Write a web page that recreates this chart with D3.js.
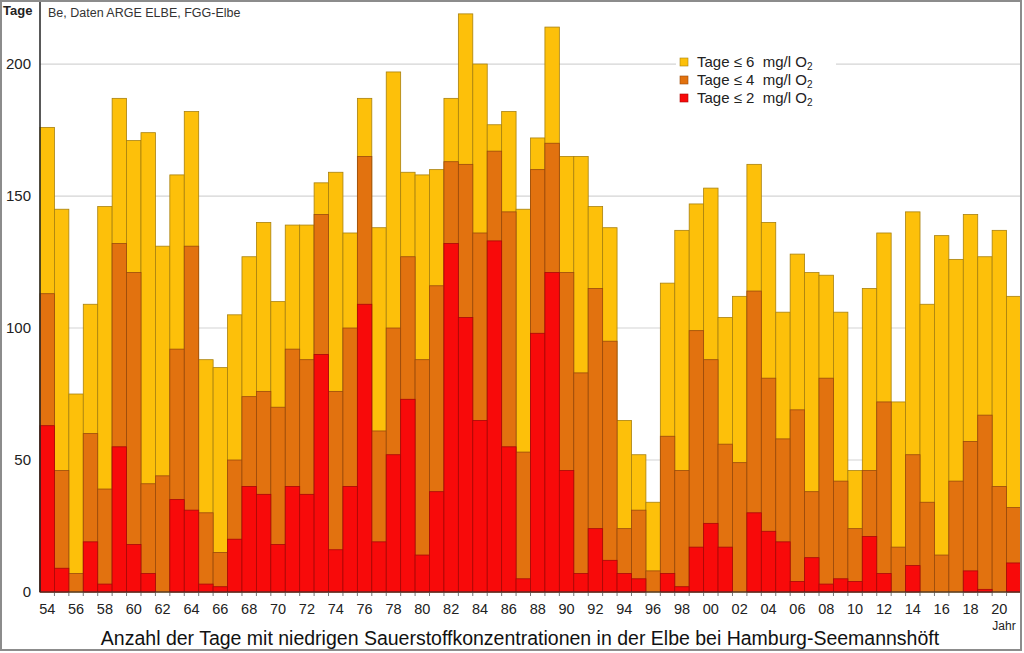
<!DOCTYPE html>
<html>
<head>
<meta charset="utf-8">
<script src="https://cdn.jsdelivr.net/npm/d3@7"></script>
<style>
    body { margin: 0; background: #fff; }
    svg { display: block; font-family: "Liberation Sans", Arial, sans-serif; }
</style>
</head>
<body>
<div id="chart"></div>
<script>
// years 1954 - 2021
var years = d3.range(1954, 2022);

// days with <= 6 mg/l O2
var days6 = [176, 145, 75, 109, 146, 187, 171, 174, 131, 158,
    182, 88, 85, 105, 127, 140, 110, 139, 139, 155,
    159, 136, 187, 138, 197, 159, 158, 160, 187, 219,
    200, 177, 182, 145, 172, 214, 165, 165, 146, 138,
    65, 52, 34, 117, 137, 147, 153, 104, 112, 162,
    140, 106, 128, 121, 120, 106, 46, 115, 136, 72,
    144, 109, 135, 126, 143, 127, 137, 112];

// days with <= 4 mg/l O2
var days4 = [113, 46, 7, 60, 39, 132, 121, 41, 44, 92,
    131, 30, 15, 50, 74, 76, 70, 92, 88, 143,
    76, 100, 165, 61, 100, 127, 88, 116, 163, 162,
    136, 167, 144, 53, 160, 170, 121, 83, 115, 95,
    24, 31, 8, 59, 46, 99, 88, 56, 49, 114,
    81, 58, 69, 38, 81, 42, 24, 46, 72, 17,
    52, 34, 14, 42, 57, 67, 40, 32];

// days with <= 2 mg/l O2
var days2 = [63, 9, 0, 19, 3, 55, 18, 7, 0, 35,
    31, 3, 2, 20, 40, 37, 18, 40, 37, 90,
    16, 40, 109, 19, 52, 73, 14, 38, 132, 104,
    65, 133, 55, 5, 98, 121, 46, 7, 24, 12,
    7, 5, 0, 7, 2, 17, 26, 17, 0, 30,
    23, 19, 4, 13, 3, 5, 4, 21, 7, 0,
    10, 0, 0, 0, 8, 1, 0, 11];

var yTicks = [0, 50, 100, 150, 200];

var drawChart = function () {
    var series = [
        { name: "6", values: days6, fill: "#fdc00a", stroke: "#a8800e" },
        { name: "4", values: days4, fill: "#e2720f", stroke: "#9a4a0c" },
        { name: "2", values: days2, fill: "#f80a0a", stroke: "#a80808" }
    ];

    var width = 1024, height = 653;
    var plotLeft = 40, plotRight = 1021, plotTop = 2, plotBottom = 592;

    var svg = d3.select("#chart")
        .append("svg")
        .attr("width", width)
        .attr("height", height);

    var x = d3.scaleBand()
        .domain(years)
        .range([plotLeft, plotRight])
        .padding(0);

    var y = d3.scaleLinear()
        .domain([0, 223.5])
        .range([plotBottom, plotTop]);

    // horizontal gridlines
    svg.append("g")
        .selectAll("line")
        .data(yTicks.filter(d => d > 0))
        .enter()
        .append("line")
        .attr("x1", plotLeft)
        .attr("x2", plotRight)
        .attr("y1", d => y(d))
        .attr("y2", d => y(d))
        .attr("stroke", "#d4d4d4")
        .attr("stroke-width", 1.2);

    // bars drawn on top of each other, largest first
    series.forEach(s => {
        var rows = years.map((yr, i) => ({ year: yr, value: s.values[i] }))
            .filter(d => d.value > 0);
        svg.append("g")
            .selectAll("rect")
            .data(rows)
            .enter()
            .append("rect")
            .attr("x", d => x(d.year))
            .attr("width", x.bandwidth())
            .attr("y", d => y(d.value))
            .attr("height", d => plotBottom - y(d.value))
            .attr("fill", s.fill)
            .attr("stroke", s.stroke)
            .attr("stroke-width", 0.8);
    });

    // legend (white box covers the gridline)
    var legend = svg.append("g");
    legend.append("rect")
    .attr("x", 676).attr("y", 54)
        .attr("width", 160).attr("height", 56)
        .attr("fill", "#fff");
    series.forEach((s, i) => {
        var ly = 62 + i * 18;
        legend.append("rect")
            .attr("x", 680).attr("y", ly - 4)
            .attr("width", 8).attr("height", 8)
            .attr("fill", s.fill)
            .attr("stroke", s.stroke)
            .attr("stroke-width", 0.6);
        var t = legend.append("text")
            .attr("x", 697).attr("y", ly + 5)
            .attr("font-size", 15)
            .attr("fill", "#222");
        t.append("tspan").text("Tage \u2264 " + s.name + "\u00a0 mg/l O");
        t.append("tspan").attr("font-size", 10).attr("dy", 3).text("2");
    });

    // y axis line
    svg.append("line")
        .attr("x1", plotLeft).attr("x2", plotLeft)
        .attr("y1", plotTop).attr("y2", plotBottom)
        .attr("stroke", "#222")
        .attr("stroke-width", 1.5);

    // x axis line with small ticks at bar boundaries
    svg.append("line")
        .attr("x1", plotLeft).attr("x2", plotRight)
        .attr("y1", plotBottom).attr("y2", plotBottom)
        .attr("stroke", "#333")
        .attr("stroke-width", 1.2);

    svg.append("g")
        .selectAll("line")
        .data(years)
        .enter()
        .append("line")
        .attr("x1", d => x(d) + x.bandwidth())
        .attr("x2", d => x(d) + x.bandwidth())
        .attr("y1", plotBottom)
        .attr("y2", plotBottom + 4)
        .attr("stroke", "#555")
        .attr("stroke-width", 0.8);

    // y tick labels
    svg.append("g")
        .selectAll("text")
        .data(yTicks)
        .enter()
        .append("text")
        .attr("x", 31)
        .attr("y", d => y(d) + 5)
        .attr("text-anchor", "end")
        .attr("font-size", 15)
        .attr("fill", "#222")
        .text(d => d);

    // x tick labels, every second year
    svg.append("g")
        .selectAll("text")
        .data(years.filter(d => d % 2 === 0))
        .enter()
        .append("text")
        .attr("x", d => x(d) + x.bandwidth() / 2)
        .attr("y", 614)
        .attr("text-anchor", "middle")
        .attr("font-size", 14.5)
        .attr("fill", "#222")
        .text(d => String(d % 100).padStart(2, "0"));

    svg.append("text")
        .attr("x", 1004).attr("y", 630)
        .attr("text-anchor", "middle")
        .attr("font-size", 12)
        .attr("fill", "#222")
        .text("Jahr");

    svg.append("text")
        .attr("x", 3).attr("y", 15)
        .attr("font-size", 13)
        .attr("font-weight", "bold")
        .attr("fill", "#222")
        .text("Tage");

    svg.append("text")
        .attr("x", 48).attr("y", 17)
        .attr("font-size", 12.5)
        .attr("fill", "#333")
        .text("Be, Daten ARGE ELBE, FGG-Elbe");

    svg.append("text")
        .attr("x", 520).attr("y", 645)
        .attr("text-anchor", "middle")
        .attr("font-size", 19.5)
        .attr("fill", "#111")
        .text("Anzahl der Tage mit niedrigen Sauerstoffkonzentrationen in der Elbe bei Hamburg-Seemannsh\u00f6ft");

    // outer frame
    svg.append("rect")
        .attr("x", 1).attr("y", 1)
        .attr("width", 1020).attr("height", 649)
        .attr("fill", "none")
        .attr("stroke", "#8c8c8c")
        .attr("stroke-width", 2);
};

drawChart();
</script>
</body>
</html>
